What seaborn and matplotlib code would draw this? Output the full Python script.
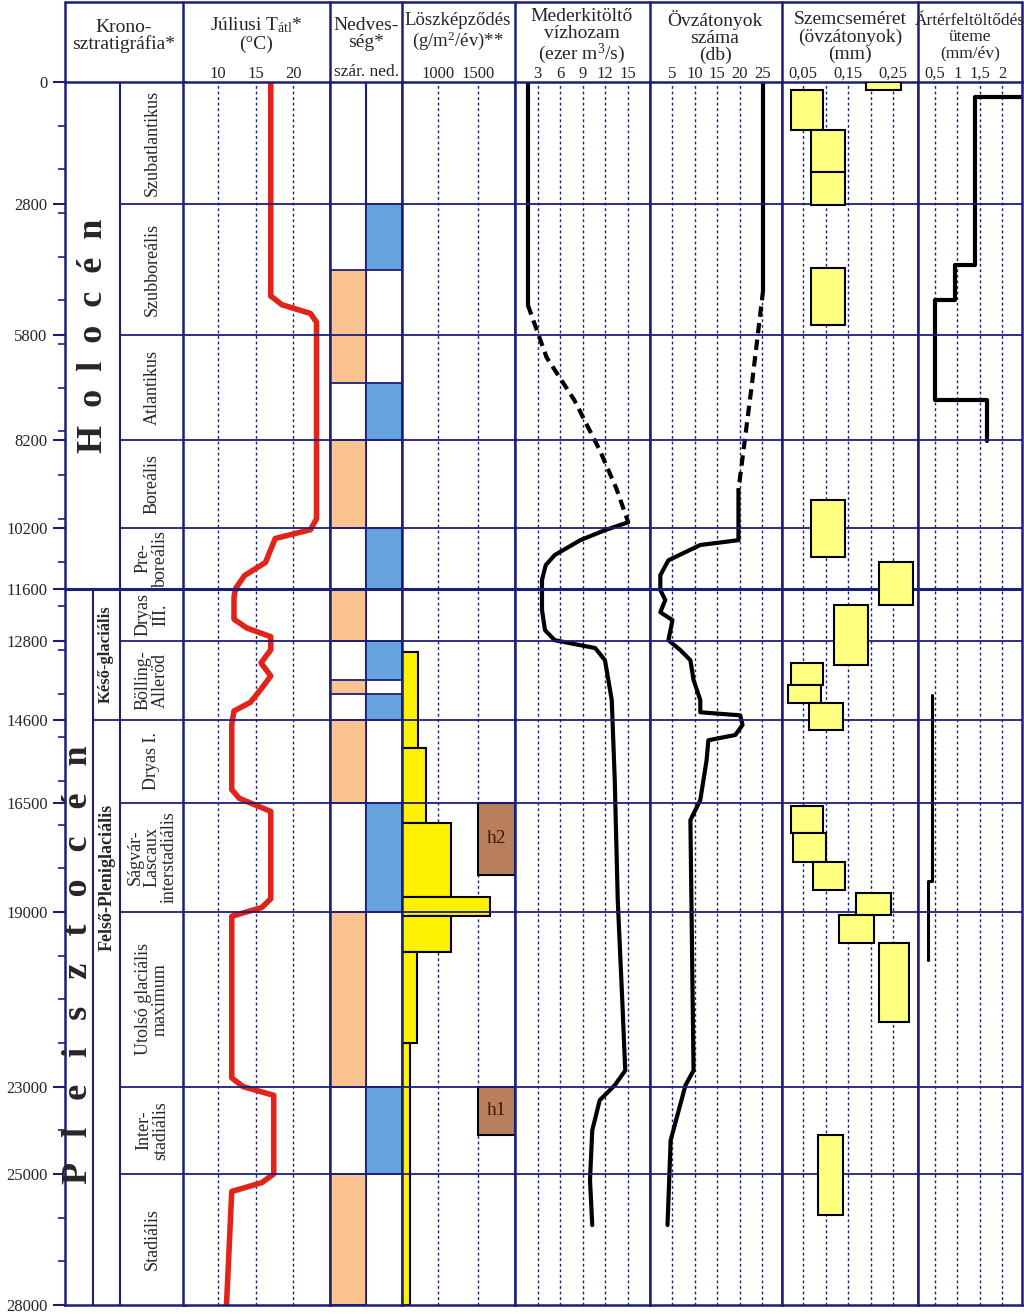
import numpy as np
import matplotlib
matplotlib.use("Agg")
import matplotlib.pyplot as plt
import seaborn as sns
from matplotlib.ticker import MultipleLocator

# --- DATA (ages in years BP) ---
TICK_AGES = [0, 2800, 5800, 8200, 10200, 11600, 12800, 14600, 16500, 19000, 23000, 25000, 28000]
STAGE_BOUNDS = [0, 2800, 5800, 8200, 10200, 11600, 12800, 14600, 16500, 19000, 23000, 25000, 28000]
STAGE_NAMES = ["Szubatlantikus", "Szubboreális", "Atlantikus", "Boreális", "Pre-\nboreális",
               "Dryas\nIII.", "Bölling-\nAlleröd", "Dryas I.", "Ságvár-\nLascaux\ninterstadiális",
               "Utolsó glaciális\nmaximum", "Inter-\nstadiális", "Stadiális"]

temp_age = [0, 4900, 5100, 5300, 5500, 10000, 10250, 10450, 10700, 11000, 11300, 11600, 11800, 12300,
            12500, 12700, 13000, 13300, 13600, 13900, 14200, 14400, 14700, 16200, 16400, 16700, 18700,
            18900, 19100, 22800, 23000, 23200, 25000, 25200, 25400, 28000]
temp_val = [17.0, 17.0, 18.5, 22.3, 23.1, 23.1, 22.3, 17.6, 17.0, 16.3, 13.5, 12.3, 12.1, 12.1,
            13.8, 17.0, 17.0, 15.7, 17.0, 15.7, 14.3, 12.1, 11.8, 11.8, 12.8, 17.0, 17.0,
            15.8, 11.8, 11.8, 13.3, 17.4, 17.4, 15.8, 11.8, 11.1]

wet_start = [2800, 6900, 10200, 12800, 14000, 16500, 23000]
wet_end = [4300, 8200, 11600, 13700, 14600, 19000, 25000]
dry_start = [4300, 8200, 11600, 13700, 14600, 19000, 25000]
dry_end = [6900, 10200, 12800, 14000, 16500, 23000, 28000]

loess_start = [13050, 15250, 16970, 18660, 19100, 19920, 22010]
loess_end = [15250, 16970, 18660, 19100, 19920, 22010, 28000]
loess_val = [750, 850, 1162, 1650, 1162, 737, 650]
hiatus_names = ["h2", "h1"]
hiatus_start = [16500, 23000]
hiatus_end = [18150, 24100]

flow_top_age = [0, 5100]
flow_top_val = [1.7, 1.7]
flow_dash_age = [5100, 6300, 7280, 8430, 9300, 10080]
flow_dash_val = [1.7, 4.2, 7.9, 11.3, 13.5, 15.1]
flow_age = [10080, 10260, 10490, 10830, 11060, 11400, 12090, 12550, 12780, 12960, 13240, 14150,
            15980, 18730, 21020, 22630, 22970, 23310, 24000, 25140, 26170]
flow_val = [15.1, 12.0, 8.7, 5.3, 4.1, 3.6, 3.6, 4.0, 5.3, 10.7, 12.0, 12.9,
            13.3, 13.7, 14.3, 14.7, 13.3, 11.3, 10.3, 10.0, 10.3]

bars_top_age = [0, 4760]
bars_top_val = [25.2, 25.2]
bars_dash_age = [4760, 7000, 9340]
bars_dash_val = [25.2, 22.6, 19.7]
bars_age = [9340, 10490, 10600, 10950, 11290, 11630, 11860, 12140, 12320, 12780, 13010, 13240, 13690,
            14150, 14430, 14500, 14720, 14950, 15070, 15530, 16440, 16900, 22630, 22970, 24230, 26170]
bars_val = [19.7, 19.7, 11.2, 4.1, 2.3, 2.3, 3.4, 2.3, 5.0, 4.1, 6.8, 9.0, 9.7,
            11.2, 11.2, 20.1, 20.6, 19.0, 13.0, 12.6, 11.2, 9.0, 9.7, 7.9, 4.6, 3.9]

grain_left = [0.189, 0.022, 0.067, 0.067, 0.067, 0.067, 0.218, 0.118, 0.022, 0.016, 0.062,
              0.022, 0.027, 0.071, 0.167, 0.129, 0.218, 0.084]
grain_right = [0.267, 0.093, 0.144, 0.144, 0.144, 0.144, 0.293, 0.193, 0.093, 0.089, 0.138,
               0.093, 0.100, 0.144, 0.244, 0.207, 0.284, 0.138]
grain_top = [0, 180, 1100, 2060, 4260, 9570, 10990, 11980, 13300, 13810, 14220,
             16580, 17200, 17860, 18570, 19080, 19720, 24110]
grain_bottom = [180, 1100, 2060, 2820, 5560, 10880, 11980, 13350, 13810, 14220, 14840,
                17200, 17860, 18500, 19080, 19720, 21530, 25940]

flood1_age = [340, 340, 4190, 4190, 5000, 5000, 7270, 7270, 8210]
flood1_val = [2.44, 1.39, 1.39, 0.94, 0.94, 0.50, 0.50, 1.66, 1.66]
flood2_age = [14040, 18300, 18300, 20100]
flood2_val = [0.43, 0.43, 0.34, 0.34]

NAVY = "#1C1F7A"
W, H = 1024, 1314
TOP, BOT = 82, 1305

sns.set_style("white")
plt.rcParams["font.family"] = "Liberation Serif"
plt.rcParams["mathtext.fontset"] = "custom"
plt.rcParams["mathtext.rm"] = "Liberation Serif"
plt.rcParams["mathtext.it"] = "Liberation Serif:italic"
fig = plt.figure(figsize=(W / 100, H / 100), dpi=100)


def col_axes(x0, x1, xlim, grid=None, ticks=None, labels=None):
    ax = fig.add_axes([x0 / W, 1 - BOT / H, (x1 - x0) / W, (BOT - TOP) / H])
    ax.set_xlim(*xlim)
    ax.set_ylim(28000, 0)
    for s in ax.spines.values():
        s.set_color(NAVY)
        s.set_linewidth(1.8)
    ax.set_yticks([])
    ax.xaxis.tick_top()
    if ticks is not None:
        ax.set_xticks(ticks)
        ax.set_xticklabels(labels if labels else [str(t) for t in ticks], fontsize=12)
        ax.tick_params(axis="x", length=0, pad=0)
    else:
        ax.set_xticks([])
    for g in (grid or []):
        ax.axvline(g, color=NAVY, lw=1, ls=(0, (2, 2)), zorder=0)
    for b in STAGE_BOUNDS[1:-1]:
        ax.axhline(b, color=NAVY, lw=1.3 if b != 11600 else 2.2, zorder=3)
    return ax


# chronostratigraphy
axc = fig.add_axes([65 / W, 1 - BOT / H, 120 / W, (BOT - TOP) / H])
axc.set_xlim(0, 120)
axc.set_ylim(28000, 0)
for s in axc.spines.values():
    s.set_color(NAVY)
    s.set_linewidth(1.8)
axc.set_xticks([])
axc.set_yticks(TICK_AGES)
axc.set_yticklabels([str(t) for t in TICK_AGES], fontsize=12)
axc.yaxis.set_minor_locator(MultipleLocator(1000))
axc.tick_params(axis="y", which="major", length=9, color=NAVY, width=1.5, left=True)
axc.tick_params(axis="y", which="minor", length=5, color=NAVY, width=1.2, left=True)
axc.axvline(55, color=NAVY, lw=1.5)
axc.plot([28, 28], [11600, 28000], color=NAVY, lw=1.5)
for b in STAGE_BOUNDS[1:-1]:
    if b == 11600:
        axc.axhline(b, color=NAVY, lw=2.2)
    elif b == 14600:
        axc.plot([28, 120], [b, b], color=NAVY, lw=1.3)
    else:
        axc.plot([55, 120], [b, b], color=NAVY, lw=1.3)
for name, a0, a1 in zip(STAGE_NAMES, STAGE_BOUNDS[:-1], STAGE_BOUNDS[1:]):
    axc.text(87, (a0 + a1) / 2, name, rotation=90, ha="center", va="center",
             fontsize=13, linespacing=1.0)
axc.text(28, 5800, "H  o  l  o  c  é  n", rotation=90, ha="center", va="center",
         fontsize=26, fontweight="bold")
axc.text(14, 20200, "P   l   e   i   s   z   t   o   c   é   n", rotation=90, ha="center",
         va="center", fontsize=26, fontweight="bold")
axc.text(41, 13100, "Késő-glaciális", rotation=90, ha="center", va="center",
         fontsize=12, fontweight="bold")
axc.text(42, 18200, "Felső-Pleniglaciális", rotation=90, ha="center", va="center",
         fontsize=13, fontweight="bold")

# July temperature
axt = col_axes(183, 330, (5.3, 24.9), grid=[10, 15, 20], ticks=[10, 15, 20])
sns.lineplot(x=temp_val, y=temp_age, sort=False, estimator=None, color="#E2231A",
             lw=4, solid_joinstyle="round", solid_capstyle="round", ax=axt)
axt.set_ylim(28000, 0)

# moisture
axm = col_axes(330, 402, (0, 2))
axm.axvline(1, color=NAVY, lw=1.5)
axm.bar([0] * len(dry_start), np.subtract(dry_end, dry_start), bottom=dry_start, width=1,
        align="edge", color="#FAC38F", edgecolor=NAVY, lw=1.3, zorder=2)
axm.bar([1] * len(wet_start), np.subtract(wet_end, wet_start), bottom=wet_start, width=1,
        align="edge", color="#66A3DE", edgecolor=NAVY, lw=1.3, zorder=2)

# loess
axl = col_axes(402, 515, (550, 1960), grid=[1000, 1500], ticks=[1000, 1500])
axl.barh(loess_start, np.subtract(loess_val, 550), left=550, height=np.subtract(loess_end, loess_start),
         align="edge", color="#FFF200", edgecolor="black", lw=1.5, zorder=2)
axl.barh(hiatus_start, 1960 - 1500, left=1500, height=np.subtract(hiatus_end, hiatus_start),
         align="edge", color="#B97F5C", edgecolor="black", lw=1.5, zorder=2)
for n, a0, a1 in zip(hiatus_names, hiatus_start, hiatus_end):
    axl.text(1730, (a0 + a1) / 2, n, ha="center", va="center", fontsize=14, color="#3A1A10")

# channel discharge
axq = col_axes(515, 650, (0, 18), grid=[3, 6, 9, 12, 15], ticks=[3, 6, 9, 12, 15])
sns.lineplot(x=flow_top_val, y=flow_top_age, sort=False, estimator=None, color="black", lw=3, ax=axq)
sns.lineplot(x=flow_dash_val, y=flow_dash_age, sort=False, estimator=None, color="black", lw=3,
             ls=(0, (2.5, 1.5)), ax=axq)
sns.lineplot(x=flow_val, y=flow_age, sort=False, estimator=None, color="black", lw=3,
             solid_joinstyle="round", ax=axq)
axq.set_ylim(28000, 0)

# point bars count
axb = col_axes(650, 782, (0, 29.4), grid=[5, 10, 15, 20, 25], ticks=[5, 10, 15, 20, 25])
sns.lineplot(x=bars_top_val, y=bars_top_age, sort=False, estimator=None, color="black", lw=3, ax=axb)
sns.lineplot(x=bars_dash_val, y=bars_dash_age, sort=False, estimator=None, color="black", lw=3,
             ls=(0, (2.5, 1.5)), ax=axb)
sns.lineplot(x=bars_val, y=bars_age, sort=False, estimator=None, color="black", lw=3,
             solid_joinstyle="round", ax=axb)
axb.set_ylim(28000, 0)

# grain size
axg = col_axes(782, 918, (0.003, 0.305), grid=[0.05, 0.1, 0.15, 0.2, 0.25],
               ticks=[0.05, 0.15, 0.25], labels=["0,05", "0,15", "0,25"])
axg.barh(grain_top, np.subtract(grain_right, grain_left), left=grain_left,
         height=np.subtract(grain_bottom, grain_top), align="edge", color="#FFFF80",
         edgecolor="black", lw=1.5, zorder=4)

# floodplain aggradation
axf = col_axes(918, 1022, (0.12, 2.44), grid=[0.5, 1, 1.5, 2], ticks=[0.5, 1, 1.5, 2],
               labels=["0,5", "1", "1,5", "2"])
sns.lineplot(x=flood1_val, y=flood1_age, sort=False, estimator=None, color="black", lw=3, ax=axf)
sns.lineplot(x=flood2_val, y=flood2_age, sort=False, estimator=None, color="black", lw=2.2, ax=axf)
axf.set_ylim(28000, 0)

# header overlay
ax0 = fig.add_axes([0, 0, 1, 1], zorder=10)
ax0.set_xlim(0, W)
ax0.set_ylim(H, 0)
ax0.axis("off")
ax0.plot([65, 1022], [2, 2], color=NAVY, lw=1.8)
for x in [65, 183, 330, 402, 515, 650, 782, 918, 1022]:
    ax0.plot([x, x], [2, TOP], color=NAVY, lw=1.8)
headers = [
    (124, 36, "Krono-\nsztratigráfia*", 14),
    (256, 34, "Júliusi T$_{\\mathrm{átl}}$*\n(°C)", 14),
    (366, 34, "Nedves-\nség*", 14),
    (458, 32, "Löszképződés\n(g/m$^2$/év)**", 13.5),
    (582, 37, "Mederkitöltő\nvízhozam\n(ezer m$^3$/s)", 14),
    (715, 37, "Övzátonyok\nszáma\n(db)", 14),
    (850, 37, "Szemcseméret\n(övzátonyok)\n(mm)", 14),
    (970, 37, "Ártérfeltöltődés\nüteme\n(mm/év)", 12.5),
]
for x, y, t, fs in headers:
    ax0.text(x, y, t, ha="center", va="center", fontsize=fs, linespacing=1.0)
ax0.text(366, 72, "szár. ned.", ha="center", va="center", fontsize=12.5)

fig.savefig("out.png", dpi=100)
